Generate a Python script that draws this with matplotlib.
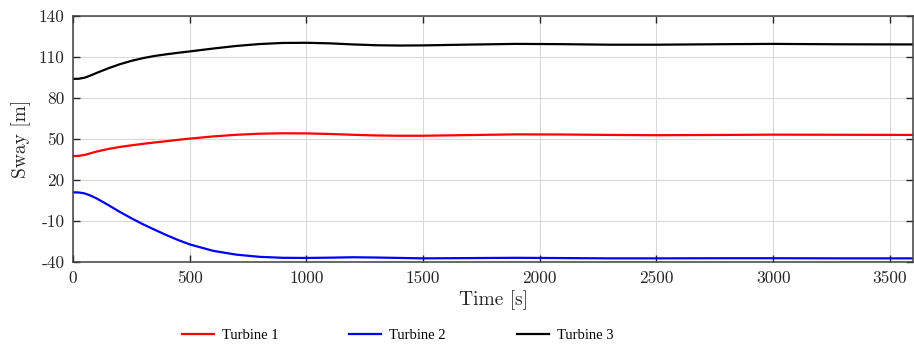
import matplotlib
matplotlib.use("Agg")
import matplotlib.pyplot as plt

plt.rcParams["font.family"] = "serif"
plt.rcParams["font.serif"] = ["cmr10"]
plt.rcParams["axes.unicode_minus"] = False
plt.rcParams["axes.formatter.use_mathtext"] = False

# time samples [s]
time = [0, 25, 50, 75, 100, 150, 200, 250, 300, 350, 400, 450, 500, 600, 700, 800, 900,
        1000, 1100, 1200, 1300, 1400, 1500, 1700, 1900, 2100, 2300, 2500,
        2800, 3000, 3300, 3600]

# sway [m]
turbine1 = [37.5, 37.7, 38.4, 39.6, 40.8, 42.7, 44.2, 45.4, 46.5, 47.5, 48.4, 49.4, 50.3, 51.9,
            53.1, 53.9, 54.2, 54.1, 53.7, 53.1, 52.6, 52.4, 52.4, 52.9, 53.4,
            53.3, 53.0, 52.8, 53.0, 53.2, 53.1, 53.0]
turbine2 = [11.0, 10.9, 10.2, 8.6, 6.6, 1.8, -3.3, -8.0, -12.4, -16.4, -20.3, -23.9, -27.1, -31.8,
            -34.6, -36.2, -36.9, -37.0, -36.8, -36.5, -36.7, -37.0, -37.3, -37.1,
            -36.9, -37.1, -37.3, -37.3, -37.2, -37.2, -37.3, -37.3]
turbine3 = [94.0, 94.1, 94.9, 96.5, 98.3, 101.7, 104.7, 107.2, 109.2, 110.8, 112.0, 113.1, 114.1,
            116.2, 118.1, 119.5, 120.3, 120.4, 120.0, 119.2, 118.6, 118.4, 118.5,
            119.1, 119.6, 119.4, 119.0, 119.0, 119.4, 119.6, 119.3, 119.2]

yticks = [-40, -10, 20, 50, 80, 110, 140]
xticks = [0, 500, 1000, 1500, 2000, 2500, 3000, 3500]

fig = plt.figure(figsize=(9.14, 3.48), dpi=100)
ax = fig.add_axes([0.080, 0.247, 0.919, 0.707])

ax.plot(time, turbine1, color="#ff0000", lw=1.6, label="Turbine 1")
ax.plot(time, turbine2, color="#0000ff", lw=1.6, label="Turbine 2")
ax.plot(time, turbine3, color="#000000", lw=1.6, label="Turbine 3")

ax.set_xlim(0, 3600)
ax.set_ylim(-40, 140)
ax.set_xticks(xticks)
ax.set_yticks(yticks)
ax.grid(True, color="#d9d9d9", lw=0.8)
ax.set_axisbelow(True)
ax.tick_params(direction="in", length=5, width=1, top=True, right=True,
               labelsize=12.5, colors="#262626", pad=6)
for s in ax.spines.values():
    s.set_color("#404040")
    s.set_linewidth(1.1)

ax.set_xlabel("Time [s]", fontsize=14, color="#262626", labelpad=3)
ax.set_ylabel("Sway [m]", fontsize=14, color="#262626", labelpad=6)

handles, labels = ax.get_legend_handles_labels()
fig.legend(handles, labels, loc="center", bbox_to_anchor=(0.435, 0.037), ncol=3,
           frameon=False, prop={"family": "Liberation Serif", "size": 10.5},
           handlelength=2.2, handletextpad=0.55, columnspacing=4.85)

fig.savefig("out.png", dpi=100)
